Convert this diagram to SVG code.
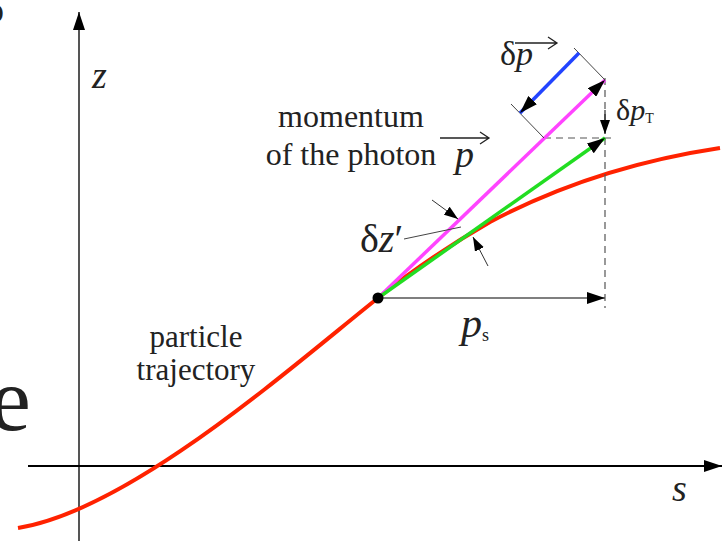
<svg xmlns="http://www.w3.org/2000/svg" width="726" height="541" viewBox="0 0 726 541">
<style>
text{font-family:"Liberation Serif","Times New Roman","DejaVu Serif",serif;fill:#222}
.it{font-style:italic}
.thin{stroke:#444;stroke-width:1;fill:none}
.dash{stroke:#555;stroke-width:1.2;stroke-dasharray:7,5;fill:none}
.vec{stroke:#222;stroke-width:1.3;fill:none}
</style>
<defs>
<marker id="ah" markerUnits="userSpaceOnUse" markerWidth="20" markerHeight="12" refX="18" refY="6" orient="auto">
<path d="M0,0 L18,6 L0,12 z" fill="#000"/>
</marker>
<marker id="ahs" markerUnits="userSpaceOnUse" markerWidth="16" markerHeight="10" refX="14" refY="5" orient="auto">
<path d="M0,0 L14,5 L0,10 z" fill="#000"/>
</marker>
</defs>
<rect width="726" height="541" fill="#fff"/>

<g id="page-fragments">
<text x="-14" y="22" font-size="36">p</text>
<text x="-10" y="430" font-size="92">e</text>
</g>

<g id="axes">
<line x1="79" y1="541" x2="79" y2="12" stroke="#555" stroke-width="2" marker-end="url(#ah)"/>
<line x1="28" y1="466" x2="722" y2="466" stroke="#000" stroke-width="2" marker-end="url(#ah)"/>
<text class="it" x="92" y="88" font-size="38">z</text>
<text class="it" x="672" y="501" font-size="38">s</text>
</g>

<g id="trajectory">
<path d="M18,528 C130,510 290,368 378,298 C415,268 450,245 490,222 C560,185 640,160 720,148" fill="none" stroke="#ff2200" stroke-width="4"/>
<text x="196" y="347" font-size="31" text-anchor="middle">particle</text>
<text x="196" y="380" font-size="31" text-anchor="middle">trajectory</text>
</g>

<g id="connectors">
<line class="dash" x1="605" y1="78" x2="605" y2="308"/>
<line class="dash" x1="544" y1="138" x2="615" y2="138"/>
<line x1="378" y1="298" x2="605" y2="298" stroke="#555" stroke-width="1.6" marker-end="url(#ah)"/>
<line x1="378" y1="298" x2="605" y2="80" stroke="#ff44ff" stroke-width="3.5" marker-end="url(#ah)"/>
<line x1="378" y1="298" x2="605" y2="138" stroke="#22dd22" stroke-width="3.5" marker-end="url(#ah)"/>
<line class="thin" x1="605" y1="80" x2="574" y2="48"/>
<line class="thin" x1="544" y1="138" x2="511" y2="104"/>
<line x1="579" y1="53" x2="520" y2="113" stroke="#2244ff" stroke-width="3.5" marker-end="url(#ah)"/>
<line x1="605" y1="110" x2="605" y2="134" stroke="#000" stroke-width="1" marker-end="url(#ahs)"/>
<line x1="432" y1="200" x2="458" y2="219" stroke="#333" stroke-width="1" marker-end="url(#ahs)"/>
<line x1="488" y1="266" x2="473" y2="237" stroke="#333" stroke-width="1" marker-end="url(#ahs)"/>
<line class="thin" x1="404" y1="239" x2="461" y2="227"/>
</g>

<g id="origin-point">
<circle cx="378" cy="298" r="5.5" fill="#000"/>
</g>

<g id="labels">
<text x="351" y="127" font-size="32" text-anchor="middle">momentum</text>
<text x="351" y="165" font-size="32" text-anchor="middle">of the photon</text>
<text class="it" x="455" y="167" font-size="38">p</text>
<path class="vec" d="M440,138 L488,138 M480,132 L489,138 L480,144"/>
<text x="500" y="65" font-size="34">δ<tspan class="it">p</tspan></text>
<path class="vec" d="M515,43 L556,43 M548,37 L557,43 L548,49"/>
<text x="616" y="120" font-size="30">δ<tspan class="it">p</tspan><tspan font-size="14" dy="3">T</tspan></text>
<text x="360" y="252" font-size="40">δ<tspan class="it">z</tspan>′</text>
<text class="it" x="461" y="337" font-size="42">p<tspan font-size="18" font-style="normal" dy="4">s</tspan></text>
</g>
</svg>
